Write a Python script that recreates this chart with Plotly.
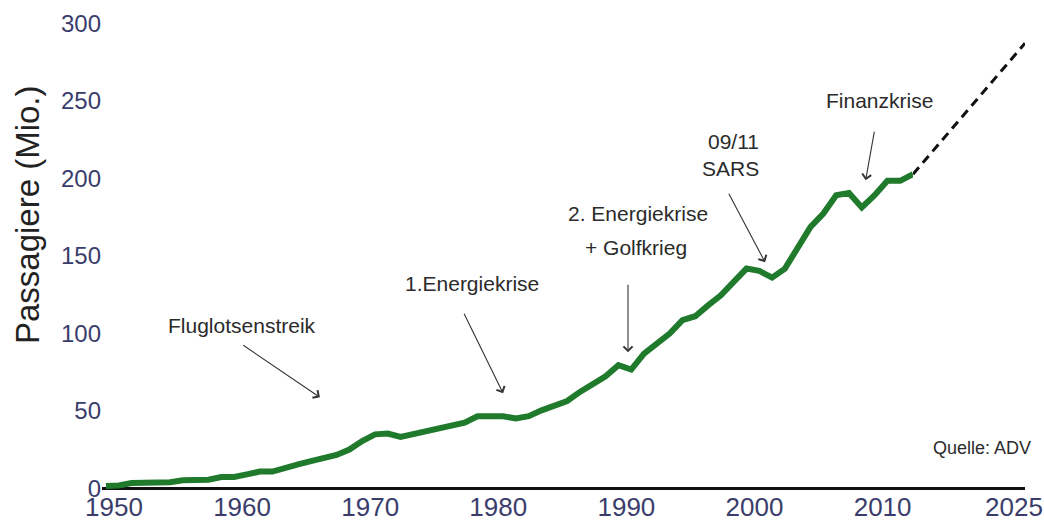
import plotly.graph_objects as go

# Passagiere an deutschen Flughäfen (Mio.), Quelle: ADV
years = list(range(1950, 2014))
passengers = [
    1.5, 1.9, 3.4, 3.4, 3.4, 3.9, 5.2, 5.2, 5.6, 7.3,
    7.3, 9.0, 10.8, 10.8, 12.7, 15.5, 17.6, 19.4, 21.5, 25.0,
    30.5, 34.8, 35.3, 33.1, 34.8, 36.8, 38.5, 40.2, 42.4, 46.5,
    46.5, 46.5, 45.0, 46.5, 50.3, 53.5, 56.3, 62.2, 67.5, 72.3,
    79.4, 76.6, 86.9, 93.8, 99.8, 108.4, 111.0, 118.0, 124.5, 133.1,
    141.7, 140.2, 135.9, 141.7, 155.7, 168.6, 177.2, 189.0, 190.5, 181.1,
    189.0, 198.3, 198.3, 202.6,
]

# Prognose bis 2025
forecast_years = [2013, 2025]
forecast_values = [202.6, 287.0]

x_ticks = [1950, 1960, 1970, 1980, 1990, 2000, 2010]
x_ticks_forecast = [2025]
y_ticks = [0, 50, 100, 150, 200, 250, 300]

# Ereignisse: (Text, Textposition, Pfeilanfang, Pfeilspitze)
events = [
    ("Fluglotsenstreik", (1960.6, 105.2), (1960.6, 92.9), (1966.7, 58.7)),
    ("1.Energiekrise", (1978.6, 132.3), (1977.9, 113.5), (1981.0, 61.3)),
    ("Finanzkrise", (2010.4, 250.3), (2010.0, 231.0), (2009.3, 198.7)),
]

FONT = "Liberation Sans, Arial, Helvetica, sans-serif"
NARROW = "Liberation Sans Narrow, Arial Narrow, Liberation Sans, sans-serif"
GREEN = "#207a2c"
TEXT = "#2b2b2b"
TICK = "#3a3d6b"
ARROW = dict(showarrow=True, arrowhead=4, arrowsize=1.6, arrowwidth=1.1,
             arrowcolor="#333333", standoff=0, startstandoff=0, text="",
             xref="x", yref="y", axref="x", ayref="y")

fig = go.Figure()

fig.add_trace(go.Scatter(
    x=years, y=passengers, mode="lines",
    line=dict(color=GREEN, width=6),
    xaxis="x", yaxis="y", showlegend=False, hoverinfo="x+y",
))
fig.add_trace(go.Scatter(
    x=forecast_years, y=forecast_values, mode="lines",
    line=dict(color="#111111", width=3, dash="9px,6px"),
    xaxis="x2", yaxis="y", showlegend=False, hoverinfo="x+y",
))

annotations = []
for text, (tx, ty), (ax, ay), (hx, hy) in events:
    annotations.append(dict(
        x=tx, y=ty, xref="x", yref="y", text=text, showarrow=False,
        font=dict(family=FONT, size=21, color=TEXT),
        xanchor="center", yanchor="middle",
    ))
    annotations.append(dict(x=hx, y=hy, ax=ax, ay=ay, **ARROW))

# Zweizeilige Beschriftungen
annotations += [
    dict(x=1991.5, y=177.4, xref="x", yref="y", text="2. Energiekrise",
         showarrow=False, font=dict(family=FONT, size=21, color=TEXT)),
    dict(x=1991.4, y=155.5, xref="x", yref="y", text="+ Golfkrieg",
         showarrow=False, font=dict(family=FONT, size=21, color=TEXT)),
    dict(x=1990.75, y=87.7, ax=1990.75, ay=132.3, **ARROW),
    dict(x=2001.1, y=223.9, xref="x", yref="y", text="09/11", xanchor="right",
         showarrow=False, font=dict(family=FONT, size=21, color=TEXT)),
    dict(x=2001.1, y=206.5, xref="x", yref="y", text="SARS", xanchor="right",
         showarrow=False, font=dict(family=FONT, size=21, color=TEXT)),
    dict(x=2001.45, y=145.8, ax=1998.56, ay=191.0, **ARROW),
    dict(x=0.9534, y=0.0945, xref="paper", yref="paper", text="Quelle: ADV",
         xanchor="center", yanchor="middle", showarrow=False,
         font=dict(family=FONT, size=18, color=TEXT)),
    dict(x=-0.0813, y=0.5896, xref="paper", yref="paper",
         text="Passagiere (Mio.)", textangle=-90, showarrow=False,
         font=dict(family=NARROW, size=33, color="#222222"),
         xanchor="center", yanchor="middle"),
]

# x-Achsen ohne eigene Linie; die Grundlinie ist die Nulllinie der y-Achse
x_common = dict(anchor="free", position=0.0085, showline=False, ticks="",
                showgrid=False, zeroline=False, automargin=False,
                ticklabeloverflow="allow",
                tickfont=dict(family=NARROW, size=26, color=TICK))

fig.update_layout(
    width=1044, height=522,
    margin=dict(l=102, r=19, t=20, b=29.35),
    paper_bgcolor="white", plot_bgcolor="white",
    annotations=annotations,
    xaxis=dict(domain=[0, 0.8787], range=[1949.69, 2013],
               tickvals=x_ticks, ticklabelshift=8, **x_common),
    xaxis2=dict(domain=[0.8787, 1], range=[2013, 2025],
                tickvals=x_ticks_forecast, ticklabelshift=-11, **x_common),
    yaxis=dict(
        range=[-3, 302], tickvals=y_ticks, ticks="", showgrid=False,
        zeroline=True, zerolinecolor="#111111", zerolinewidth=2.6,
        showline=False,
        tickfont=dict(family=FONT, size=24, color=TICK), automargin=False,
    ),
)

fig.write_html("out.html")
